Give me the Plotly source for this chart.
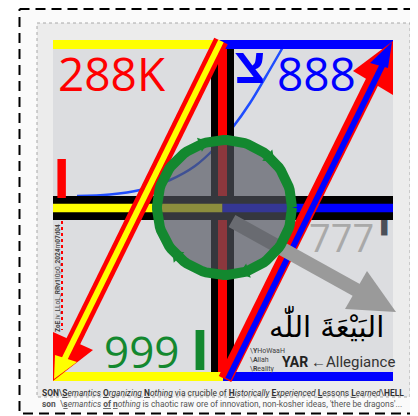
import numpy as np
import plotly.graph_objects as go

W, H = 418, 416
PAGE_MARGIN = 8  # browser body margin, the plot div starts here

# frames: x0, y0, x1, y1 (pixel space, y down)
outer_frame = [19.5, 9, 440, 413.5]
inner_frame = [37, 23, 410, 397]
panel = [53, 40, 393, 381]

# border bars
top_y = 44.5
bottom_y = 376.5
border_w = 9
top_yellow_x = [53, 220]
top_blue_x = [220, 393]
bottom_yellow_x = [53, 223]
bottom_blue_x = [223, 393]

# central cross
cross_x = 222.5
cross_y = 208
vbar_y = [49, 372]
hbar_x = [53, 393]

# thin blue curve
curve_x = [77, 110, 140, 170, 195, 215, 233, 250, 265, 283]
curve_y = [196, 194.5, 190, 180, 166, 148, 127, 103, 78, 47]

# left diagonal (red / yellow), pointing down-left
left_diag_x = [221, 70]
left_diag_y = [41, 348]
left_core_x = [221, 64]
left_core_y = [41, 360]
left_head_red_x = [53, 53, 93]
left_head_red_y = [381, 332, 350]
left_head_yel_x = [54, 55, 77]
left_head_yel_y = [379, 355, 362]

# right diagonal (red / blue), pointing up-right
right_diag_x = [225, 378]
right_diag_y = [379, 70]
right_core_x = [228, 384]
right_core_y = [379, 62]
right_head_red_x = [393, 353, 393]
right_head_red_y = [41, 71, 95]
right_head_blu_x = [392, 370, 388]
right_head_blu_y = [42, 63, 68]

# grey arrow
grey_x = [232, 360]
grey_y = [221, 292]
grey_head_x = [396, 367, 345]
grey_head_y = [312, 271, 309]

# circle
circle_c = (224.5, 207.5)
circle_r = 68
ring_r = 67.5
barb_angles = [-109, -48, 72, 135]

fig = go.Figure()


def poly(xs, ys, fill, line_color=None, line_w=0, dash=None):
    fig.add_trace(go.Scatter(
        x=list(xs) + [xs[0]], y=list(ys) + [ys[0]], mode="lines",
        fill="toself", fillcolor=fill,
        line=dict(color=line_color or fill, width=line_w, dash=dash),
        hoverinfo="skip", showlegend=False))


def rect(box, fill, line_color=None, line_w=0, dash=None):
    x0, y0, x1, y1 = box
    poly([x0, x1, x1, x0], [y0, y0, y1, y1], fill, line_color, line_w, dash)


def seg(xs, ys, color, w):
    fig.add_trace(go.Scatter(x=xs, y=ys, mode="lines",
                             line=dict(color=color, width=w),
                             hoverinfo="skip", showlegend=False))


rect(outer_frame, "#fafafa", "black", 2, "10px,6px")
rect(inner_frame, "#ececec", "#a8a8a8", 1, "dot")
rect(panel, "#dcdde0")

# blue curve
fig.add_trace(go.Scatter(x=curve_x, y=curve_y, mode="lines",
                         line=dict(color="#1f4dff", width=2.5, shape="spline"),
                         hoverinfo="skip", showlegend=False))

# vertical bar
seg([cross_x, cross_x], vbar_y, "black", 23)
seg([cross_x, cross_x], vbar_y, "red", 9)
# horizontal bar
seg(hbar_x, [cross_y, cross_y], "black", 24)
seg([hbar_x[0], cross_x], [cross_y, cross_y], "yellow", 8.5)
seg([cross_x, hbar_x[1]], [cross_y, cross_y], "blue", 8.5)

# borders
seg(top_yellow_x, [top_y, top_y], "yellow", border_w)
seg(top_blue_x, [top_y, top_y], "blue", border_w)
seg(bottom_yellow_x, [bottom_y, bottom_y], "yellow", border_w)
seg(bottom_blue_x, [bottom_y, bottom_y], "blue", border_w)

# diagonals
seg(left_diag_x, left_diag_y, "red", 15)
poly(left_head_red_x, left_head_red_y, "red")
seg(left_core_x, left_core_y, "yellow", 6)
poly(left_head_yel_x, left_head_yel_y, "yellow")

seg(right_diag_x, right_diag_y, "red", 14)
poly(right_head_red_x, right_head_red_y, "red")
seg(right_core_x, right_core_y, "blue", 6)
poly(right_head_blu_x, right_head_blu_y, "blue")

# grey arrow
seg(grey_x, grey_y, "#9a9a9a", 14)
poly(grey_head_x, grey_head_y, "#9a9a9a")

# circle overlay and ring
t = np.linspace(0, 2 * np.pi, 120)
cx, cy = circle_c
poly(cx + circle_r * np.cos(t), cy + circle_r * np.sin(t), "rgba(80,84,92,0.66)")
fig.add_trace(go.Scatter(x=cx + ring_r * np.cos(t), y=cy + ring_r * np.sin(t),
                         mode="lines", line=dict(color="#13882f", width=10),
                         hoverinfo="skip", showlegend=False))
a = np.radians(barb_angles)
fig.add_trace(go.Scatter(
    x=cx + ring_r * np.cos(a), y=cy + ring_r * np.sin(a), mode="markers",
    marker=dict(symbol="triangle-up", size=13, color="#13882f",
                angle=[np.degrees(np.arctan2(-np.sin(v), -np.cos(v))) for v in a]),
    hoverinfo="skip", showlegend=False))

# red dotted line at left
fig.add_trace(go.Scatter(x=[62, 62], y=[221, 330], mode="lines",
                         line=dict(color="red", width=2, dash="dot"),
                         hoverinfo="skip", showlegend=False))

ann = []


def txt(x, y, s, size, color, xa="left", ya="middle", family="Open Sans", angle=0):
    ann.append(dict(x=x, y=y, text=s, showarrow=False, xanchor=xa, yanchor=ya,
                    textangle=angle, font=dict(size=size, color=color, family=family)))


txt(56, 73, "288K", 46, "red")
txt(250, 66, "<b>צ</b>", 50, "blue", xa="center", family="Liberation Sans")
txt(275, 73, "888", 46, "blue")
txt(61, 176, "<b>ו</b>", 64, "red", xa="center", family="Liberation Sans")
txt(307, 237, "777", 38, "#a9a9a9")
txt(384, 232, "<b>י</b>", 48, "#4b4f58", xa="center", family="Liberation Sans")
txt(102, 351, "999", 44, "#13882f")
txt(200, 347, "<b>ו</b>", 66, "#13882f", xa="center", family="Liberation Sans")
txt(326, 324, "البَيْعَةَ اللّٰه", 29, "black", xa="center", family="DejaVu Sans")
txt(248, 351, "\\<b>Y</b>HoWaaH", 7, "#444", family="Roboto")
txt(248, 360, "\\<b>A</b>llah", 7, "#444", family="Roboto")
txt(248, 369, "\\<b>R</b>eality", 7, "#444", family="Roboto")
txt(280, 362, "<b>YAR</b>", 14, "#222", family="Roboto")
txt(309, 362, "←Allegiance", 15, "#333", family="Roboto")
txt(58, 278, "<b>ZoE</b>.iv_LLoL_<b>RRv1</b>l0p0_<b>2024</b>m<b>07</b>d<b>04</b>",
    6.5, "#444", xa="center", family="Roboto", angle=-90)
txt(40, 393,
    "<b>SON</b>\\<b><u>S</u></b><i>emantics</i> <b><u>O</u></b><i>rganizing</i> "
    "<b><u>N</u></b><i>othing</i> via crucible of <b><u>H</u></b><i>istorically</i> "
    "<b><u>E</u></b><i>xperienced</i> <b><u>L</u></b>essons <b><u>L</u></b><i>earned</i>\\<b>HELL</b>",
    8.4, "#333", family="Roboto")
txt(40, 403.5,
    "<b>son</b>  \\<b><u>s</u></b><i>emantics</i> <b><u>of</u></b> <b><u>n</u></b><i>othing</i> "
    "is chaotic raw ore of innovation, non-kosher ideas, 'there be dragons'...",
    8.4, "#555", family="Roboto")

fig.update_layout(
    width=W - PAGE_MARGIN, height=H - PAGE_MARGIN,
    margin=dict(l=0, r=0, t=0, b=0),
    paper_bgcolor="white", plot_bgcolor="white",
    xaxis=dict(range=[PAGE_MARGIN, W], visible=False, fixedrange=True),
    yaxis=dict(range=[H, PAGE_MARGIN], visible=False, fixedrange=True),
    annotations=ann, showlegend=False,
)

fig.write_html("out.html")
